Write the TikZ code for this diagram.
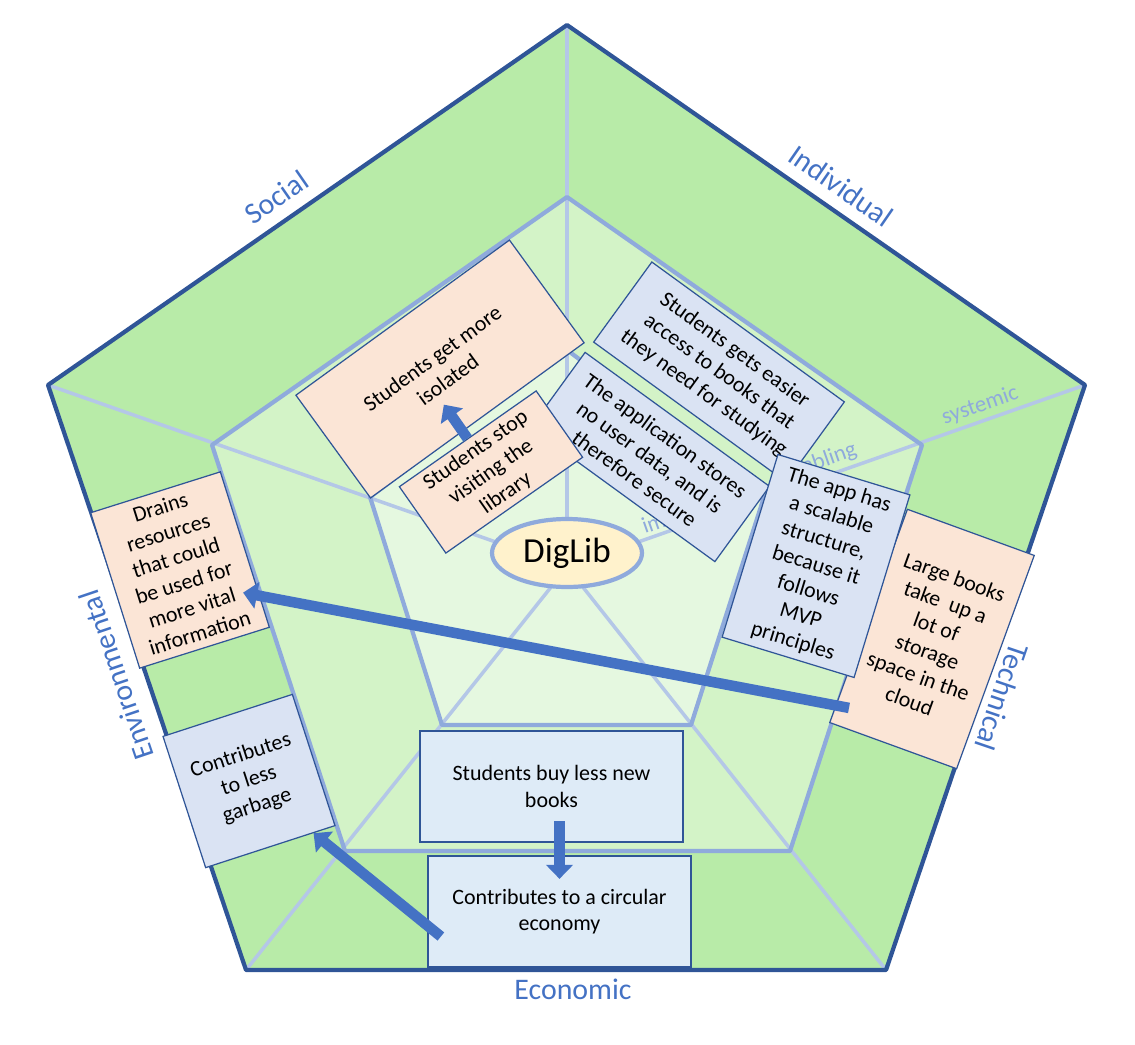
\documentclass[tikz,border=0pt]{standalone}
\usepackage{fontspec}
\setmainfont{Carlito}
\usetikzlibrary{arrows.meta, calc, shapes.geometric}

\definecolor{ringgreen}{RGB}{184,235,168}
\definecolor{midgreen}{RGB}{211,243,199}
\definecolor{coregreen}{RGB}{229,248,224}
\definecolor{edgeblue}{RGB}{47,85,151}
\definecolor{ringblue}{RGB}{143,170,220}
\definecolor{spokeblue}{RGB}{180,199,231}
\definecolor{peach}{RGB}{251,229,214}
\definecolor{paleblue}{RGB}{218,227,243}
\definecolor{lightblue}{RGB}{222,235,247}
\definecolor{hubyellow}{RGB}{255,242,204}
\definecolor{axisblue}{RGB}{68,114,196}

\newcommand{\cardfont}{\fontsize{12.5}{15}\selectfont}
\newcommand{\axisfont}{\fontsize{17}{20}\selectfont}
\newcommand{\levelfont}{\fontsize{13}{15}\selectfont}
\newcommand{\hubfont}{\fontsize{20}{24}\selectfont}

\tikzset{
	ring/.style={draw=ringblue, line width=2.4pt, line join=round},
	spoke/.style={draw=spokeblue, line width=2pt},
	card/.style={draw=edgeblue, line width=0.7pt, align=center, font=\cardfont, inner sep=0pt},
	peachcard/.style={card, fill=peach},
	bluecard/.style={card, fill=paleblue},
	flatcard/.style={card, fill=lightblue, line width=1.3pt, minimum width=5.26cm, minimum height=2.22cm},
	axislabel/.style={text=axisblue, font=\axisfont},
	levellabel/.style={text=ringblue, font=\levelfont, sloped, above, inner sep=2pt},
	blockarrow/.style={draw=axisblue, line width=6pt, -{Triangle[width=15pt,length=8pt]}},
}

\begin{document}
\begin{tikzpicture}[x=0.02cm, y=-0.02cm]
			\useasboundingbox (0,0) rectangle (1135,1044);
			
			\coordinate (C) at (567, 567);
			% outer ring
			\coordinate (oT) at (567, 25);
			\coordinate (oR) at (1085, 385);
			\coordinate (oBR) at (886, 970);
			\coordinate (oBL) at (246, 970);
			\coordinate (oL) at (48, 385);
			% middle ring
			\coordinate (mT) at (567, 197);
			\coordinate (mR) at (922, 445);
			\coordinate (mBR) at (790, 851);
			\coordinate (mBL) at (345, 851);
			\coordinate (mL) at (212, 445);
			% inner ring
			\coordinate (iT) at (567, 350);
			\coordinate (iR) at (764, 497);
			\coordinate (iBR) at (691, 725);
			\coordinate (iBL) at (442, 725);
			\coordinate (iL) at (370, 497);
			
			\fill[ringgreen] (oT) -- (oR) -- (oBR) -- (oBL) -- (oL) -- cycle;
			\fill[midgreen] (mT) -- (mR) -- (mBR) -- (mBL) -- (mL) -- cycle;
			\fill[coregreen] (iT) -- (iR) -- (iBR) -- (iBL) -- (iL) -- cycle;
			
			\draw[spoke] (C) -- (oT);
			\draw[spoke] (C) -- (oL);
			\draw[spoke] (C) -- (oBL);
			\draw[spoke] (C) -- (oBR);
			\draw[spoke] (C) -- (oR)
				node[levellabel, pos=0.245] (immlabel) {immediate}
				node[levellabel, pos=0.495] (enablabel) {enabling}
				node[levellabel, pos=0.807] (syslabel) {systemic};
			
			\draw[ring] (iT) -- (iR) -- (iBR) -- (iBL) -- (iL) -- cycle;
			\draw[ring] (mT) -- (mR) -- (mBR) -- (mBL) -- (mL) -- cycle;
			\draw[edgeblue, line width=2.4pt, line join=round] (oT) -- (oR) -- (oBR) -- (oBL) -- (oL) -- cycle;
			
			\node[ellipse, draw=ringblue, line width=2.4pt, fill=hubyellow, minimum width=3cm, minimum height=1.36cm, inner sep=0pt, font=\hubfont] (hub) at (567, 553) {DigLib};
			
			\node[peachcard, rotate=36, minimum width=5.28cm, minimum height=2.54cm] (isolated) at (440, 369) {Students get more\\isolated};
			\node[bluecard, rotate=-36, minimum width=4.76cm, minimum height=1.98cm] (access) at (719, 372) {Students gets easier\\access to books that\\they need for studying};
			\node[bluecard, rotate=-36, minimum width=4.56cm, minimum height=1.86cm] (secure) at (650, 457) {The application stores\\no user data, and is\\therefore secure};
			\node[peachcard, rotate=35, minimum width=3.34cm, minimum height=1.62cm] (stop) at (491, 472) {Students stop\\visiting the\\library};
			\node[peachcard, rotate=-20, minimum width=2.7cm, minimum height=4.54cm] (large) at (932, 639) {Large books\\take\ \ up a\\lot of\\storage\\space in the\\cloud};
			\node[bluecard, rotate=-17, minimum width=2.76cm, minimum height=3.82cm] (scalable) at (816, 566) {The app has\\a scalable\\structure,\\because it\\follows\\MVP\\principles};
			\node[peachcard, rotate=17.5, minimum width=2.72cm, minimum height=3.26cm] (drains) at (180, 570) {Drains\\resources\\that could\\be used for\\more vital\\information};
			\node[bluecard, rotate=18, minimum width=2.72cm, minimum height=2.76cm] (garbage) at (249, 781) {Contributes\\to less\\garbage};
			\node[flatcard] (buy) at (551.5, 786.5) {Students buy less new\\books};
			\node[flatcard] (circular) at (559.5, 911.5) {Contributes to a circular\\economy};
			
			\draw[blockarrow] (stop.north) -- ($(stop.south)!1.5!(stop.north)$);
			\draw[blockarrow] ($(buy.south -| circular.north)+(0,-22)$) -- ($(circular.north)+(0,24)$);
			\draw[blockarrow] ($(circular.west)+(14,25)$) -- ($(garbage.south east)!0.17!(garbage.south west)$);
			\draw[blockarrow] ($(large.south west)+(20,-15)$) -- ($(drains.south east)+(-27,-35)$);
			
			\node[axislabel, rotate=34.7] (social) at (276, 197) {Social};
			\node[axislabel, rotate=-34.7] (individual) at (841, 186) {Individual};
			\node[axislabel, rotate=-108.8] (technical) at (1002, 697) {Technical};
			\node[axislabel] (economic) at (573, 989) {Economic};
			\node[axislabel, rotate=108.7] (environmental) at (116, 675) {Environmental};
			
		\end{tikzpicture}
\end{document}
